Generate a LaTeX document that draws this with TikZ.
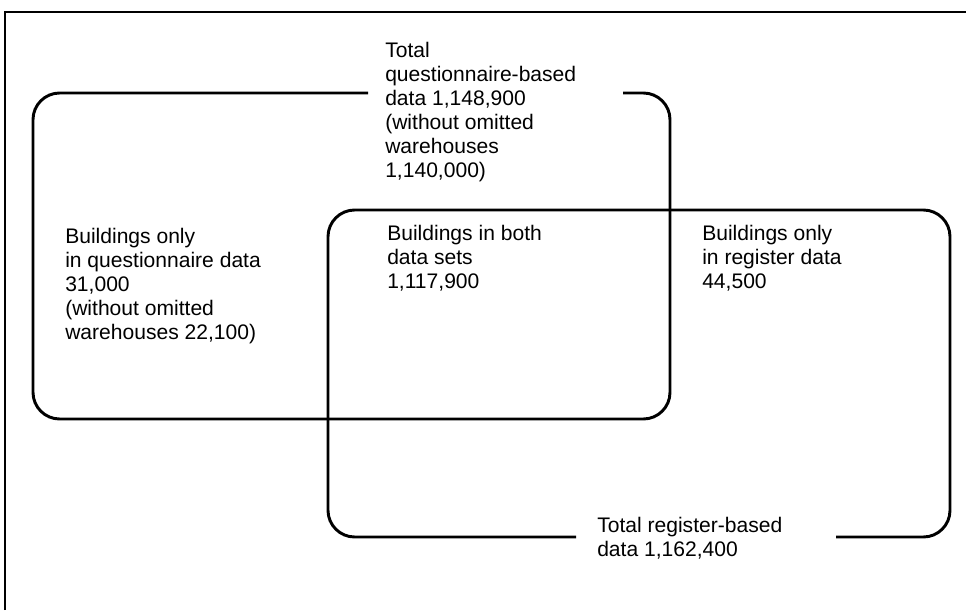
\documentclass[tikz,border=0pt]{standalone}
\usepackage{fontspec}
\setmainfont{Liberation Sans}
\usetikzlibrary{positioning}

\tikzset{
  setline/.style={line width=2.2pt, rounded corners=20pt},
  frameline/.style={line width=0.8pt},
  setlabel/.style={anchor=north west, align=left, inner sep=0pt,
                   font=\fontsize{15.8}{18}\selectfont},
}

\begin{document}
\begin{tikzpicture}[x=0.75pt, y=-0.75pt]
  \useasboundingbox (0,0) rectangle (966,610);

  % frame, cut at right and bottom
  \draw[frameline] (5,610) -- (5,12) -- (966,12);

  \node[setlabel] (qtotal) at (385,42) {Total\\questionnaire-based\\data 1,148,900\\(without omitted\\warehouses\\1,140,000)};
  \node[setlabel] (qonly) at (65,228) {Buildings only\\in questionnaire data\\31,000\\(without omitted\\warehouses 22,100)};
  \node[setlabel] (both) at (387,225) {Buildings in both\\data sets\\1,117,900};
  \node[setlabel] (ronly) at (702,225) {Buildings only\\in register data\\44,500};
  \node[setlabel] (rtotal) at (597,517) {Total register-based\\data 1,162,400};

  % questionnaire set, open round its label
  \draw[setline] (368,93) -- (33,93) -- (33,419) -- (670,419) -- (670,93) -- (623,93);
  % register set, open round its label
  \draw[setline] (576,537) -- (328,537) -- (328,210) -- (950,210) -- (950,537) -- (836,537);

\end{tikzpicture}
\end{document}
